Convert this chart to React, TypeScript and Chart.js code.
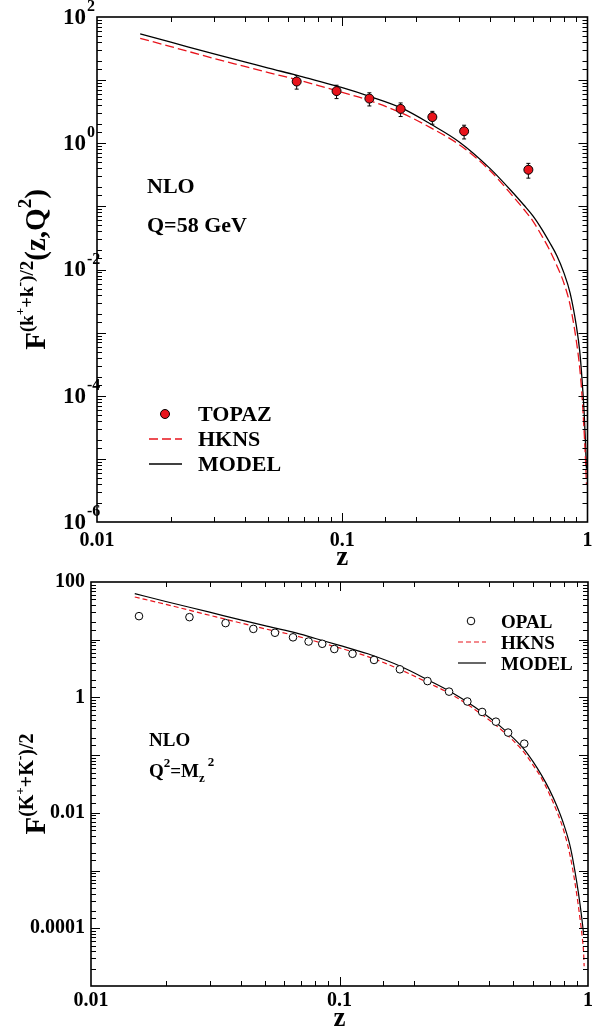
import { useEffect, useRef } from 'react';
import { Chart, registerables } from 'chart.js';

Chart.register(...registerables);

const SERIF = '"Liberation Serif", "Times New Roman", Times, serif';
const RED = '#e8141c';

// ---------- top panel (Q = 58 GeV) ----------
const topazZ = [0.0652, 0.0948, 0.129, 0.173, 0.233, 0.314, 0.574];
const topazF = [9.5, 6.7, 5.1, 3.5, 2.6, 1.55, 0.38];
const topazErr = [2.3, 1.6, 1.2, 0.85, 0.6, 0.38, 0.1];

const topCurveZ = [0.015, 0.02, 0.03, 0.04, 0.05, 0.065, 0.08, 0.1, 0.13, 0.175, 0.23, 0.3, 0.4, 0.5, 0.55, 0.6, 0.65, 0.7, 0.75, 0.8, 0.85, 0.9, 0.93, 0.95, 0.97, 0.98, 0.99];
const topModelF = [54, 40, 26, 19.5, 15.5, 12, 9.6, 7.6, 5.5, 3.6, 2.0, 1.05, 0.4, 0.16, 0.105, 0.07, 0.044, 0.027, 0.0165, 0.009, 0.0042, 0.0013, 5e-4, 1.8e-4, 5e-5, 2e-5, 7e-6];
const topHknsF = [46, 34, 22, 16.5, 13.2, 10.2, 8.2, 6.4, 4.7, 3.0, 1.75, 0.95, 0.37, 0.14, 0.09, 0.058, 0.0345, 0.0205, 0.0115, 0.0062, 0.0027, 7.5e-4, 2.7e-4, 1e-4, 2.5e-5, 1.1e-5, 4e-6];

// ---------- bottom panel (Q^2 = Mz^2) ----------
const opalZ = [0.0156, 0.0249, 0.0348, 0.045, 0.055, 0.065, 0.0751, 0.0852, 0.0953, 0.1128, 0.1377, 0.175, 0.226, 0.276, 0.327, 0.375, 0.426, 0.477, 0.554];
const opalF = [25.6, 24.6, 19.4, 15.4, 13.2, 11.0, 9.3, 8.5, 6.9, 5.7, 4.46, 3.07, 1.92, 1.26, 0.85, 0.56, 0.38, 0.246, 0.158];

const botModelZ = [0.015, 0.02, 0.03, 0.04, 0.05, 0.065, 0.08, 0.1, 0.13, 0.175, 0.23, 0.28, 0.35, 0.45, 0.55, 0.6, 0.65, 0.7, 0.75, 0.8, 0.85, 0.9, 0.93, 0.95, 0.96];
const botModelF = [63, 46, 30, 22, 17.5, 13.5, 10.5, 8.0, 5.7, 3.5, 1.95, 1.25, 0.68, 0.3, 0.13, 0.078, 0.045, 0.025, 0.013, 0.0062, 0.0025, 6.5e-4, 2.5e-4, 1.2e-4, 8e-5];
const botHknsZ = [0.015, 0.02, 0.03, 0.04, 0.05, 0.065, 0.08, 0.1, 0.13, 0.175, 0.23, 0.28, 0.35, 0.45, 0.55, 0.6, 0.65, 0.7, 0.75, 0.8, 0.85, 0.9, 0.93, 0.95, 0.96, 0.965];
const botHknsF = [55, 41, 26.5, 19.5, 15.5, 12.0, 9.4, 7.2, 5.1, 3.05, 1.75, 1.15, 0.62, 0.27, 0.115, 0.068, 0.04, 0.021, 0.0105, 0.0048, 0.0017, 4e-4, 1.4e-4, 6.5e-5, 3.8e-5, 2.2e-5];

// ---------- ticks ----------
const xTickValues = [0.01, 0.1, 1];
const xTickLabels = ['0.01', '0.1', '1'];
const topYTickExponents = [2, 0, -2, -4, -6];
const botYTickValues = [100, 1, 0.01, 0.0001];
const botYTickLabels = ['100', '1', '0.01', '0.0001'];

type Seg = { t: string; size: number; dy?: number; dx?: number };

const pts = (xs: number[], ys: number[]) => xs.map((x, i) => ({ x, y: ys[i] }));

const tickLabel = (values: number[], labels: string[]) => (v: any) => {
  const n = Number(v);
  const i = values.findIndex((t) => Math.abs(Math.log10(t) - Math.log10(n)) < 1e-6);
  return i >= 0 ? labels[i] : '';
};

function drawRich(ctx: CanvasRenderingContext2D, segs: Seg[], x: number, y: number, align: 'left' | 'center') {
  ctx.textBaseline = 'alphabetic';
  ctx.textAlign = 'left';
  let w = 0;
  for (const s of segs) {
    ctx.font = `bold ${s.size}px ${SERIF}`;
    w += ctx.measureText(s.t).width + (s.dx || 0);
  }
  let cx = align === 'center' ? x - w / 2 : x;
  for (const s of segs) {
    ctx.font = `bold ${s.size}px ${SERIF}`;
    cx += s.dx || 0;
    ctx.fillText(s.t, cx, y + (s.dy || 0));
    cx += ctx.measureText(s.t).width;
  }
}

const isDecade = (v: number) => Math.abs(Math.log10(v) - Math.round(Math.log10(v))) < 1e-6;

const frameTicks = {
  id: 'frameTicks',
  afterDatasetsDraw(chart: any) {
    const { ctx, chartArea: a, scales } = chart;
    const xs = scales.x;
    const ys = scales.y;
    ctx.save();
    ctx.strokeStyle = '#000';
    ctx.lineWidth = 1;
    ctx.beginPath();
    for (const t of xs.ticks) {
      const p = Math.round(xs.getPixelForValue(t.value)) + 0.5;
      if (p < a.left + 1 || p > a.right - 1) continue;
      const len = isDecade(t.value) ? 9 : 5;
      ctx.moveTo(p, a.bottom); ctx.lineTo(p, a.bottom - len);
      ctx.moveTo(p, a.top); ctx.lineTo(p, a.top + len);
    }
    for (const t of ys.ticks) {
      const p = Math.round(ys.getPixelForValue(t.value)) + 0.5;
      if (p < a.top + 1 || p > a.bottom - 1) continue;
      const len = isDecade(t.value) ? 9 : 5;
      ctx.moveTo(a.left, p); ctx.lineTo(a.left + len, p);
      ctx.moveTo(a.right, p); ctx.lineTo(a.right - len, p);
    }
    ctx.stroke();
    ctx.lineWidth = 1.6;
    ctx.strokeRect(a.left, a.top, a.right - a.left, a.bottom - a.top);
    ctx.restore();
  },
};

const errorBars = {
  id: 'errorBars',
  beforeDatasetsDraw(chart: any) {
    const { ctx, scales } = chart;
    ctx.save();
    ctx.strokeStyle = '#000';
    ctx.lineWidth = 1;
    chart.data.datasets.forEach((ds: any) => {
      if (!ds.errors) return;
      ds.data.forEach((p: any, i: number) => {
        const e = ds.errors[i];
        const px = scales.x.getPixelForValue(p.x);
        const y1 = scales.y.getPixelForValue(p.y + e);
        const y2 = scales.y.getPixelForValue(p.y - e);
        ctx.beginPath();
        ctx.moveTo(px, y1); ctx.lineTo(px, y2);
        ctx.moveTo(px - 2, y1); ctx.lineTo(px + 2, y1);
        ctx.moveTo(px - 2, y2); ctx.lineTo(px + 2, y2);
        ctx.stroke();
      });
    });
    ctx.restore();
  },
};

const powerLabels = {
  id: 'powerLabels',
  afterDraw(chart: any, _a: any, o: any) {
    if (!o || !o.exponents) return;
    const { ctx } = chart;
    const ys = chart.scales.y;
    ctx.save();
    ctx.fillStyle = '#000';
    for (const e of o.exponents) {
      const py = ys.getPixelForValue(Math.pow(10, e));
      ctx.font = `bold ${o.size}px ${SERIF}`;
      ctx.textAlign = 'right';
      ctx.textBaseline = 'middle';
      ctx.fillText('10', o.x, py + 1);
      ctx.font = `bold ${o.supSize}px ${SERIF}`;
      ctx.textAlign = 'left';
      ctx.fillText(String(e), o.x + 1, py - o.supRise);
    }
    ctx.restore();
  },
};

const yTitle = {
  id: 'yTitle',
  afterDraw(chart: any, _a: any, o: any) {
    if (!o || !o.segs) return;
    const { ctx, chartArea: a } = chart;
    ctx.save();
    ctx.fillStyle = '#000';
    ctx.translate(o.x, (a.top + a.bottom) / 2 + (o.shift || 0));
    ctx.rotate(-Math.PI / 2);
    drawRich(ctx, o.segs, 0, 0, 'center');
    ctx.restore();
  },
};

const notes = {
  id: 'notes',
  afterDraw(chart: any, _a: any, o: any) {
    if (!o || !o.items) return;
    const { ctx } = chart;
    ctx.save();
    ctx.fillStyle = '#000';
    for (const it of o.items) drawRich(ctx, it.segs, it.x, it.y, 'left');
    ctx.restore();
  },
};

const boxLegend = {
  id: 'boxLegend',
  afterDraw(chart: any, _a: any, o: any) {
    if (!o || !o.items) return;
    const { ctx } = chart;
    ctx.save();
    for (const it of o.items) {
      const ds = chart.data.datasets[it.ds];
      if (ds.showLine) {
        ctx.strokeStyle = ds.borderColor;
        ctx.lineWidth = ds.borderWidth;
        ctx.setLineDash(ds.borderDash || []);
        ctx.beginPath();
        ctx.moveTo(o.x1, it.y);
        ctx.lineTo(o.x2, it.y);
        ctx.stroke();
        ctx.setLineDash([]);
      } else {
        ctx.beginPath();
        ctx.arc(o.mx, it.y, ds.pointRadius, 0, Math.PI * 2);
        ctx.fillStyle = ds.pointBackgroundColor;
        ctx.fill();
        ctx.lineWidth = ds.pointBorderWidth;
        ctx.strokeStyle = ds.pointBorderColor;
        ctx.stroke();
      }
      ctx.fillStyle = '#000';
      ctx.font = `bold ${o.size}px ${SERIF}`;
      ctx.textAlign = 'left';
      ctx.textBaseline = 'alphabetic';
      ctx.fillText(ds.label, o.tx, it.y + o.baseOff);
    }
    ctx.restore();
  },
};

const tickFont = { family: SERIF, size: 20, weight: 'bold' as const };

function baseScales(p: { ymin: number; ymax: number; yWidth: number; xHeight: number; xPad: number; yTicks: any }) {
  return {
    x: {
      type: 'logarithmic',
      min: 0.01,
      max: 1,
      grid: { display: false, drawTicks: false },
      border: { display: false },
      ticks: { autoSkip: false, maxRotation: 0, minRotation: 0, padding: p.xPad, font: tickFont, color: '#000', callback: tickLabel(xTickValues, xTickLabels) },
      title: { display: true, text: 'z', color: '#000', font: { family: SERIF, size: 27, weight: 'bold', lineHeight: 1 }, padding: 0 },
      afterFit: (s: any) => { s.height = p.xHeight; s.paddingLeft = 0; s.paddingRight = 0; },
    },
    y: {
      type: 'logarithmic',
      min: p.ymin,
      max: p.ymax,
      grid: { display: false, drawTicks: false },
      border: { display: false },
      ticks: p.yTicks,
      afterFit: (s: any) => { s.width = p.yWidth; s.paddingTop = 0; s.paddingBottom = 0; },
    },
  };
}

export default function App() {
  const topRef = useRef<HTMLCanvasElement>(null);
  const botRef = useRef<HTMLCanvasElement>(null);

  useEffect(() => {
    const top = new Chart(topRef.current as HTMLCanvasElement, {
      type: 'scatter',
      data: {
        datasets: [
          { label: 'TOPAZ', data: pts(topazZ, topazF), errors: topazErr, showLine: false, pointRadius: 4.5, pointBackgroundColor: RED, pointBorderColor: '#000', pointBorderWidth: 1 } as any,
          { label: 'HKNS', data: pts(topCurveZ, topHknsF), showLine: true, borderColor: RED, borderWidth: 1.3, borderDash: [9, 4], pointRadius: 0, cubicInterpolationMode: 'monotone' },
          { label: 'MODEL', data: pts(topCurveZ, topModelF), showLine: true, borderColor: '#000', borderWidth: 1.3, pointRadius: 0, cubicInterpolationMode: 'monotone' },
        ],
      },
      options: {
        animation: false,
        responsive: false,
        devicePixelRatio: 1,
        layout: { padding: { top: 17, right: 1, left: 0, bottom: 0 } },
        scales: baseScales({ ymin: 1e-6, ymax: 100, yWidth: 97, xHeight: 50, xPad: 7, yTicks: { display: false } }) as any,
        plugins: {
          legend: { display: false },
          tooltip: { enabled: false },
          powerLabels: { exponents: topYTickExponents, x: 86, size: 23, supSize: 16, supRise: 10 },
          yTitle: {
            x: 45,
            segs: [
              { t: 'F', size: 29 },
              { t: '(k', size: 19, dy: -12 },
              { t: '+', size: 13, dy: -21 },
              { t: '+k', size: 19, dy: -12 },
              { t: '-', size: 14, dy: -21 },
              { t: ')/2', size: 19, dy: -12 },
              { t: '(z,Q', size: 29 },
              { t: '2', size: 19, dy: -14 },
              { t: ')', size: 29 },
            ],
          },
          notes: {
            items: [
              { x: 147, y: 193, segs: [{ t: 'NLO', size: 22 }] },
              { x: 147, y: 232, segs: [{ t: 'Q=58 GeV', size: 22 }] },
            ],
          },
          boxLegend: { x1: 149, x2: 182, mx: 165, tx: 198, size: 22, baseOff: 7, items: [{ ds: 0, y: 414 }, { ds: 1, y: 439 }, { ds: 2, y: 464 }] },
        } as any,
      },
      plugins: [errorBars, frameTicks, powerLabels, yTitle, notes, boxLegend],
    } as any);

    const bot = new Chart(botRef.current as HTMLCanvasElement, {
      type: 'scatter',
      data: {
        datasets: [
          { label: 'OPAL', data: pts(opalZ, opalF), showLine: false, pointRadius: 3.8, pointBackgroundColor: '#fff', pointBorderColor: '#000', pointBorderWidth: 1 },
          { label: 'HKNS', data: pts(botHknsZ, botHknsF), showLine: true, borderColor: RED, borderWidth: 1.2, borderDash: [5, 3], pointRadius: 0, cubicInterpolationMode: 'monotone' },
          { label: 'MODEL', data: pts(botModelZ, botModelF), showLine: true, borderColor: '#000', borderWidth: 1.2, pointRadius: 0, cubicInterpolationMode: 'monotone' },
        ],
      },
      options: {
        animation: false,
        responsive: false,
        devicePixelRatio: 1,
        layout: { padding: { top: 10, right: 1, left: 0, bottom: 0 } },
        scales: baseScales({
          ymin: 1e-5,
          ymax: 100,
          yWidth: 91,
          xHeight: 47,
          xPad: 3,
          yTicks: { autoSkip: false, padding: 6, font: tickFont, color: '#000', callback: tickLabel(botYTickValues, botYTickLabels) },
        }) as any,
        plugins: {
          legend: { display: false },
          tooltip: { enabled: false },
          yTitle: {
            x: 45,
            segs: [
              { t: 'F', size: 29 },
              { t: '(K', size: 20, dy: -12 },
              { t: '+', size: 13, dy: -21 },
              { t: '+K', size: 20, dy: -12 },
              { t: '-', size: 14, dy: -21 },
              { t: ')/2', size: 20, dy: -12 },
            ],
          },
          notes: {
            items: [
              { x: 149, y: 174, segs: [{ t: 'NLO', size: 19 }] },
              {
                x: 149,
                y: 205,
                segs: [
                  { t: 'Q', size: 19 },
                  { t: '2', size: 13, dy: -10 },
                  { t: '=M', size: 19 },
                  { t: 'z', size: 13, dy: 5 },
                  { t: '2', size: 13, dy: -11, dx: 3 },
                ],
              },
            ],
          },
          boxLegend: { x1: 458, x2: 486, mx: 471, tx: 501, size: 19, baseOff: 7, items: [{ ds: 0, y: 49 }, { ds: 1, y: 70 }, { ds: 2, y: 91 }] },
        } as any,
      },
      plugins: [frameTicks, yTitle, notes, boxLegend],
    } as any);

    return () => {
      top.destroy();
      bot.destroy();
    };
  }, []);

  return (
    <div style={{ position: 'absolute', left: 0, top: 0, width: 593, height: 1033, background: '#fff', overflow: 'hidden' }}>
      <canvas ref={topRef} width={593} height={572} style={{ display: 'block' }} />
      <canvas ref={botRef} width={593} height={461} style={{ display: 'block' }} />
    </div>
  );
}
